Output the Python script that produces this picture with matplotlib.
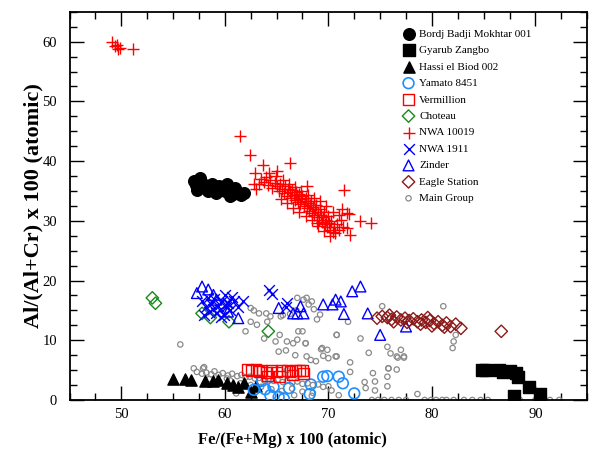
import matplotlib
matplotlib.use("Agg")
import matplotlib.pyplot as plt
from matplotlib.ticker import MultipleLocator

plt.rcParams['font.family'] = ['Liberation Serif', 'DejaVu Serif']

# Bordj Badji Mokhtar 001
bbm_x = [57.0, 57.6, 57.3, 58.1, 58.8, 59.1, 59.7, 60.2, 60.5, 61.0, 61.3, 61.9,
         58.4, 57.2, 59.4, 60.8, 58.6, 57.8, 60.0, 61.6]
bbm_y = [36.6, 37.2, 35.2, 35.8, 36.1, 34.7, 35.2, 36.1, 34.1, 35.5, 34.7, 34.7,
         35.0, 36.0, 35.8, 34.5, 35.3, 36.3, 35.0, 34.3]

# Gyarub Zangbo
gz_x = [84.8, 85.2, 86.5, 86.9, 87.5, 88.1, 88.3, 89.4, 90.4, 87.9]
gz_y = [5.0, 5.0, 5.1, 4.7, 4.9, 4.5, 3.8, 2.1, 1.0, 0.7]

# Hassi el Biod 002
heb_x = [55.0, 56.2, 56.7, 58.1, 58.9, 60.2, 60.8, 61.3, 62.5, 63.0, 59.3, 61.9]
heb_y = [3.5, 3.5, 3.4, 3.1, 3.1, 2.8, 2.5, 2.2, 1.4, 2.3, 3.3, 2.9]

# Yamato 8451
yam_x = [62.8, 63.9, 64.7, 64.4, 65.2, 65.7, 68.2, 69.5, 69.9, 71.0, 71.4, 72.5, 68.3,
         66.2, 63.6]
yam_y = [1.7, 1.8, 2.2, 0.8, 0.5, 0.2, 1.0, 3.9, 4.0, 3.9, 2.8, 1.1, 2.6,
         2.0, 3.2]

# Vermillion
ver_x = [62.2, 62.6, 63.0, 63.3, 63.6, 64.0, 64.1, 64.5, 65.0, 65.5, 65.3, 66.0,
         66.3, 66.5, 66.8, 67.2, 67.5, 67.6]
ver_y = [5.1, 5.0, 5.1, 4.8, 5.0, 4.6, 4.0, 4.9, 4.7, 5.0, 3.9, 5.0,
         4.75, 4.2, 5.0, 4.9, 5.0, 4.5]

# Choteau
cho_x = [53.0, 53.3, 57.8, 58.6, 60.4, 64.2]
cho_y = [17.1, 16.2, 14.5, 13.8, 13.1, 11.5]

# NWA 10019
nwa10019_x = [49.1, 49.6, 49.7, 49.4, 49.9, 51.1,
              61.5, 62.4, 63.7, 66.3, 65.0, 62.9, 62.8, 71.5, 67.9, 73.1, 74.1,
              71.8, 72.1, 70.4, 68.9, 71.3, 71.8,
              63.5, 63.8, 64.0, 64.2, 64.4, 64.6, 64.8, 65.0, 65.2, 65.3, 65.5,
              65.7, 65.8, 66.0, 66.1, 66.3, 66.4, 66.5, 66.7, 66.8, 66.9, 67.0,
              67.1, 67.2, 67.3, 67.4, 67.5, 67.6, 67.7, 67.8, 67.9, 68.0, 68.1,
              68.2, 68.3, 68.4, 68.5, 68.6, 68.7, 68.8, 68.9, 69.0, 69.1, 69.2,
              69.3, 69.4, 69.5, 69.6, 69.7, 69.8, 69.9, 70.0, 70.1, 70.2, 70.3,
              70.5, 70.6, 70.8, 71.0, 71.2, 71.4, 71.0, 70.4, 69.8, 69.2, 68.6,
              68.0, 67.4, 66.8, 66.2, 65.6, 64.9, 64.3, 63.3, 63.0, 65.4, 66.0,
              66.6, 67.2, 67.8, 68.4, 69.0, 69.6, 70.2, 72.0]
nwa10019_y = [60.0, 59.4, 58.8, 59.2, 59.0, 58.8,
              44.2, 41.1, 39.4, 39.6, 38.3, 38.0, 36.1, 35.1, 35.9, 29.9, 29.6,
              28.8, 27.7, 28.2, 29.6, 31.9, 31.3,
              37.0, 36.5, 37.3, 36.0, 36.8, 35.5, 36.4, 35.8, 35.0, 36.2, 35.4,
              34.7, 35.9, 34.2, 35.3, 34.8, 33.8, 35.1, 34.3, 33.5, 34.8, 33.9,
              33.1, 34.5, 32.8, 33.6, 34.2, 32.4, 33.3, 33.9, 32.1, 33.0, 31.7,
              32.6, 33.4, 31.3, 32.3, 30.9, 31.9, 32.7, 30.6, 31.5, 30.2, 32.0,
              31.0, 29.8, 30.6, 31.4, 29.4, 30.2, 28.9, 30.8, 29.6, 28.5, 30.0,
              29.0, 27.9, 29.5, 28.4, 30.2, 29.0, 31.0, 31.5, 32.5, 33.3, 33.9,
              34.4, 35.0, 35.6, 36.2, 36.9, 37.5, 38.0, 36.2, 35.4, 33.7, 32.9,
              32.2, 31.5, 30.8, 30.1, 29.2, 28.3, 27.4, 31.2]

# NWA 1911
nwa1911_x = [57.8, 58.2, 58.5, 58.7, 58.9, 59.1, 59.3, 59.5, 59.7, 59.9, 60.1, 60.3,
             60.5, 60.7, 58.4, 59.0, 60.9, 59.6, 58.0, 61.8, 64.3, 64.6, 66.0, 65.9,
             61.3, 60.0, 60.2]
nwa1911_y = [16.5, 15.5, 14.8, 16.0, 15.2, 14.5, 15.8, 15.0, 16.6, 14.3, 15.5, 16.2,
             15.0, 17.2, 17.0, 16.9, 16.5, 13.9, 14.2, 16.5, 18.5, 17.8, 16.2, 15.6,
             15.5, 17.5, 16.2]

# Zinder
zin_x = [57.8, 58.4, 57.3, 59.2, 60.3, 61.3, 65.2, 66.6, 67.0, 67.3, 67.6, 69.5,
         70.4, 70.7, 71.2, 71.5, 72.3, 73.1, 73.8, 75.0, 77.5, 58.9]
zin_y = [19.0, 18.5, 17.9, 16.8, 14.8, 13.7, 15.4, 14.5, 14.5, 15.7, 14.5, 16.0,
         16.0, 16.8, 16.5, 14.4, 18.2, 19.0, 14.5, 10.9, 12.3, 17.6]

# Eagle Station
es_x = [74.7, 75.2, 75.7, 76.1, 76.6, 77.0, 77.4, 77.8, 78.2, 78.6, 79.0, 79.4,
        79.8, 80.2, 80.6, 81.0, 81.4, 81.8, 82.3, 82.8, 76.3, 77.6, 78.9, 80.0,
        81.2, 75.9, 79.6, 86.7]
es_y = [13.7, 14.0, 13.8, 13.5, 13.9, 13.4, 13.7, 13.3, 13.6, 13.1, 13.4, 13.0,
        13.3, 12.8, 13.1, 12.5, 12.9, 12.3, 12.7, 12.0, 13.1, 13.0, 12.7, 12.4,
        12.2, 14.2, 13.8, 11.5]

# Main Group
mg_x = [55.7, 62.0, 62.5, 63.1, 63.8, 64.1, 64.9, 65.2, 65.3, 65.9, 66.0, 66.6,
        66.8, 67.0, 67.5, 67.8, 67.9, 68.3, 68.8, 69.3, 69.5, 70.0, 70.8, 70.8,
        72.1, 60.2, 57.9,
        62.5, 62.8, 63.3, 64.0, 64.4, 67.0, 67.6, 68.1, 68.6, 65.6, 66.3, 66.9,
        67.9, 68.4, 69.2, 68.9, 65.4, 67.1, 70.8, 71.9, 75.2, 81.1,
        66.0, 67.8, 69.4, 69.9, 73.1, 73.9, 75.7, 75.8, 76.6, 77.0, 77.3, 70.7,
        72.1, 75.8, 76.6, 75.7, 74.5, 75.7, 73.6, 74.5, 78.6, 82.1, 82.3, 82.0,
        76.0, 76.7, 77.3, 74.3, 73.5,
        57.3, 57.8, 58.2, 58.7, 59.0, 59.4, 59.8, 60.3, 60.7, 61.2, 61.6, 62.0,
        62.4, 62.9, 63.3, 63.8, 64.2, 64.7, 65.1, 65.6, 66.0, 66.5, 67.0, 67.5,
        68.0, 68.5, 69.0, 69.5, 70.0, 58.5, 59.5, 60.5, 61.5, 62.5, 63.5, 64.5,
        65.5, 66.5, 67.5, 68.5, 57.0, 58.0, 61.1, 66.7, 68.4, 70.3, 71.0,
        74.2, 74.8, 75.4, 76.1, 76.8, 77.5, 79.3, 79.9, 80.4, 81.0, 81.4, 82.1,
        83.1, 83.9, 84.7, 85.4, 88.5, 90.0, 91.4, 92.3]
mg_y = [9.3, 11.5, 13.1, 12.6, 10.3, 13.1, 9.8, 8.1, 10.9, 8.3, 5.0, 9.5,
        7.5, 10.1, 11.5, 9.5, 7.3, 6.7, 6.5, 8.5, 7.4, 7.0, 10.9, 7.3,
        4.7, 3.6, 5.3,
        15.4, 15.0, 14.5, 14.5, 14.0, 17.1, 16.8, 16.0, 15.2, 14.2, 14.4, 15.0,
        17.1, 16.5, 14.3, 13.5, 14.0, 11.5, 10.9, 13.1, 15.7, 15.7,
        9.8, 9.5, 8.7, 8.4, 10.3, 7.9, 8.9, 5.3, 7.3, 8.4, 7.3, 7.3,
        6.3, 5.3, 5.1, 3.9, 3.1, 2.3, 2.0, 1.6, 1.0, 9.8, 10.9, 8.7,
        7.8, 7.1, 7.1, 4.5, 3.0,
        4.7, 4.4, 4.6, 4.3, 4.8, 4.2, 4.5, 4.1, 4.4, 4.0, 4.2, 3.8,
        3.9, 3.6, 3.7, 3.3, 3.5, 3.2, 3.4, 3.0, 3.2, 2.9, 3.1, 2.7,
        2.8, 2.5, 2.6, 2.2, 2.3, 3.5, 3.0, 3.3, 2.8, 2.5, 2.2, 1.8,
        1.5, 1.9, 1.4, 1.2, 5.3, 5.5, 1.1, 0.8, 0.7, 1.6, 0.8,
        0, 0, 0, 0, 0, 0, 0, 0, 0, 0, 0, 0,
        0, 0, 0, 0, 0, 0, 0, 0]

fig = plt.figure(figsize=(5.89, 4.53), dpi=100)
ax = fig.add_axes([0.118, 0.117, 0.879, 0.857])

mg = ax.scatter(mg_x, mg_y, s=15, facecolors='none', edgecolors='#8a8a8a',
                linewidths=0.9, label='Main Group', zorder=2)
h1 = ax.scatter(bbm_x, bbm_y, s=70, c='black', marker='o',
                label='Bordj Badji Mokhtar 001', zorder=3)
h2 = ax.scatter(gz_x, gz_y, s=65, c='black', marker='s',
                label='Gyarub Zangbo', zorder=3)
h3 = ax.scatter(heb_x, heb_y, s=65, c='black', marker='^',
                label='Hassi el Biod 002', zorder=3)
h4 = ax.scatter(yam_x, yam_y, s=60, facecolors='none', edgecolors='#1e8fff',
                linewidths=1.2, marker='o', label='Yamato 8451', zorder=4)
h5 = ax.scatter(ver_x, ver_y, s=60, facecolors='none', edgecolors='red',
                linewidths=1.0, marker='s', label='Vermillion', zorder=4)
h6 = ax.scatter(cho_x, cho_y, s=40, facecolors='none', edgecolors='#1a8a1a',
                linewidths=1.0, marker='D', label='Choteau', zorder=4)
h7 = ax.scatter(nwa10019_x, nwa10019_y, s=70, c='red', marker='+',
                linewidths=1.0, label='NWA 10019', zorder=4)
h8 = ax.scatter(nwa1911_x, nwa1911_y, s=60, c='blue', marker='x',
                linewidths=1.0, label='NWA 1911', zorder=4)
h9 = ax.scatter(zin_x, zin_y, s=60, facecolors='none', edgecolors='blue',
                linewidths=1.0, marker='^', label='Zinder', zorder=4)
h10 = ax.scatter(es_x, es_y, s=40, facecolors='none', edgecolors='#8b1a1a',
                 linewidths=1.0, marker='D', label='Eagle Station', zorder=4)

ax.set_xlim(45, 95)
ax.set_ylim(0, 65)
ax.xaxis.set_major_locator(MultipleLocator(10))
ax.xaxis.set_minor_locator(MultipleLocator(2.5))
ax.yaxis.set_major_locator(MultipleLocator(10))
ax.yaxis.set_minor_locator(MultipleLocator(2.5))
ax.tick_params(which='both', direction='in', top=True, right=True, labelsize=10.5)
ax.tick_params(which='major', length=10, width=1.0)
ax.tick_params(which='minor', length=5, width=1.0)
ax.tick_params(axis='y', pad=9)
ax.tick_params(axis='x', pad=6)
for sp in ax.spines.values():
    sp.set_linewidth(1.3)

ax.set_xlabel('Fe/(Fe+Mg) x 100 (atomic)', fontsize=12, fontweight='bold')
ax.set_ylabel('Al/(Al+Cr) x 100 (atomic)', fontsize=16, fontweight='bold')
ax.xaxis.set_label_coords(0.43, -0.082)
ax.yaxis.set_label_coords(-0.05, 0.5)

ax.legend(handles=[h1, h2, h3, h4, h5, h6, h7, h8, h9, h10, mg],
          loc='upper left', bbox_to_anchor=(0.628, 0.97), frameon=False,
          fontsize=8, handletextpad=0.2, labelspacing=0.6, borderpad=0,
          handlelength=1.5, scatterpoints=1)

fig.savefig('out.png', dpi=100)
